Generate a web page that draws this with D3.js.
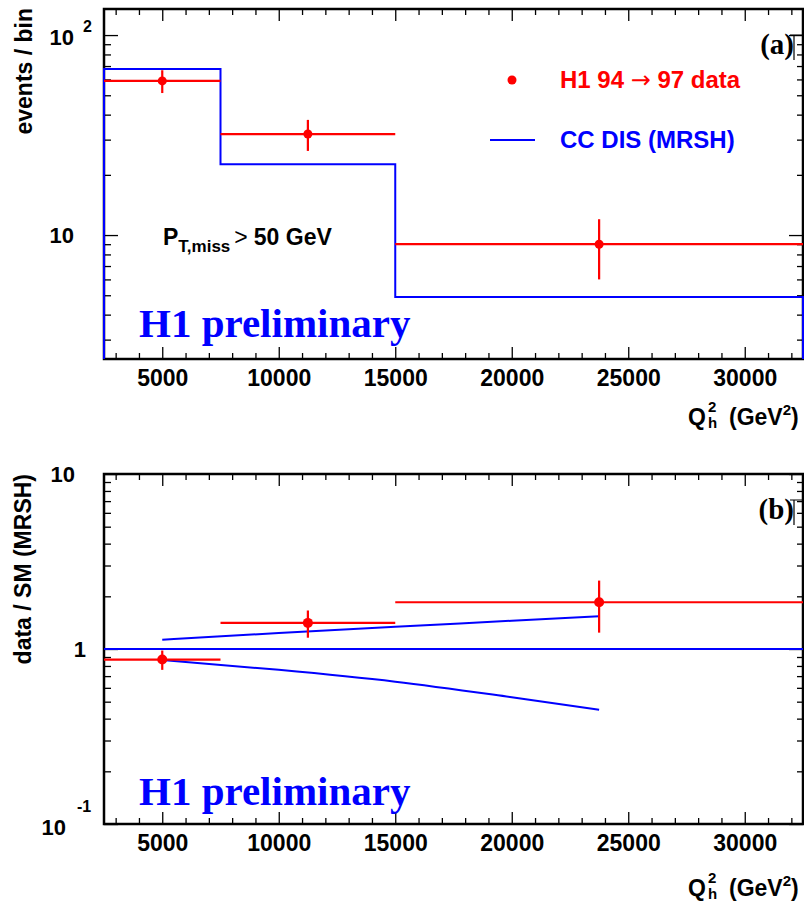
<!DOCTYPE html>
<html>
<head>
<meta charset="utf-8">
<script src="https://cdn.jsdelivr.net/npm/d3@7"></script>
<style>
  body { margin: 0; background: #fff; }
  svg { display: block; font-family: "Liberation Sans", Arial, sans-serif; font-weight: bold; }
  .serif { font-family: "Liberation Serif", "Times New Roman", serif; }
</style>
</head>
<body>
<svg id="chart" width="804" height="903"></svg>
<script>
// ---- values ----
var binEdges   = [2500, 7500, 15000, 32500];
var binCentres = [5000, 11250, 23750];
var dataEvents = [59, 32, 9];
var dataErr    = [7.7, 5.66, 3.0];
var mcEvents   = [67.6, 22.6, 4.9];
var ratioVals  = [0.87, 1.41, 1.85];
var ratioErr   = [0.11, 0.25, 0.61];
var bandQ2     = [5000, 10000, 15000, 20000, 23750];
var bandUp     = [1.13, 1.235, 1.34, 1.45, 1.54];
var bandLo     = [0.865, 0.76, 0.65, 0.53, 0.45];
var xTicks     = [5000, 10000, 15000, 20000, 25000, 30000];
var xMinor     = d3.range(3000, 33000, 1000);

var RED = "#ff0000", BLUE = "#0000ff";
var svg = d3.select("#chart");
var left = 104, right = 803;

var x = d3.scaleLinear().domain([2500, 32500]).range([left, right]);

function logMinor(lo, hi) {
    var out = [];
    for (var e = -2; e <= 3; e++)
        for (var m = 2; m <= 9; m++) {
            var v = m * Math.pow(10, e);
            if (v > lo && v < hi) out.push(v);
        }
    return out;
}

function drawFrame(y, top, bottom, majors) {
    var g = svg.append("g");
    var yd = y.domain();
    var minorX = xMinor.filter(d => xTicks.indexOf(d) < 0);
    // bottom axis with labels
    g.append("g").attr("transform", `translate(0,${bottom})`)
        .call(d3.axisBottom(x).tickValues(xTicks).tickSize(-12).tickPadding(11).tickFormat(d3.format("d")))
        .call(a => a.select(".domain").remove())
        .call(a => a.selectAll("text").attr("font-size", 23).attr("fill", "#000")
            .style("font-family", "Liberation Sans").style("font-weight", "bold"));
    g.append("g").attr("transform", `translate(0,${bottom})`)
        .call(d3.axisBottom(x).tickValues(minorX).tickSize(-6).tickFormat(""))
        .call(a => a.select(".domain").remove());
    // top mirrored ticks
    g.append("g").attr("transform", `translate(0,${top})`)
        .call(d3.axisTop(x).tickValues(xTicks).tickSize(-12).tickFormat(""))
        .call(a => a.select(".domain").remove());
    g.append("g").attr("transform", `translate(0,${top})`)
        .call(d3.axisTop(x).tickValues(minorX).tickSize(-6).tickFormat(""))
        .call(a => a.select(".domain").remove());
    // left and right
    g.append("g").attr("transform", `translate(${left},0)`)
        .call(d3.axisLeft(y).tickValues(majors).tickSize(-14).tickFormat(""))
        .call(a => a.select(".domain").remove());
    g.append("g").attr("transform", `translate(${left},0)`)
        .call(d3.axisLeft(y).tickValues(logMinor(yd[0], yd[1])).tickSize(-7).tickFormat(""))
        .call(a => a.select(".domain").remove());
    g.append("g").attr("transform", `translate(${right},0)`)
        .call(d3.axisRight(y).tickValues(majors).tickSize(-14).tickFormat(""))
        .call(a => a.select(".domain").remove());
    g.append("g").attr("transform", `translate(${right},0)`)
        .call(d3.axisRight(y).tickValues(logMinor(yd[0], yd[1])).tickSize(-6).tickFormat(""))
        .call(a => a.select(".domain").remove());
    g.selectAll(".tick line").attr("stroke", "#000").attr("stroke-width", 1.3);

    svg.append("rect").attr("x", left).attr("y", top)
        .attr("width", right - left).attr("height", bottom - top)
        .attr("fill", "none").attr("stroke", "#000").attr("stroke-width", 2.5);
}

function xTitle(base) {
    svg.append("text").attr("x", 688).attr("y", base).attr("font-size", 23).text("Q");
    svg.append("text").attr("x", 708).attr("y", base - 13).attr("font-size", 15).text("2");
    svg.append("text").attr("x", 708).attr("y", base + 3).attr("font-size", 15).text("h");
    var t = svg.append("text").attr("x", 729).attr("y", base).attr("font-size", 23).text("(GeV");
    t.append("tspan").attr("font-size", 15).attr("dy", -10).text("2");
    t.append("tspan").attr("dy", 10).text(")");
}

function panelTag(label, top) {
    svg.append("path").attr("d", `M790,${top + 26}H804M794,${top + 26}V${top + 51}`)
        .attr("stroke", "#000").attr("stroke-width", 1.2).attr("fill", "none");
    svg.append("text").attr("class", "serif").attr("x", 794).attr("y", top + 45)
        .attr("text-anchor", "end").attr("font-size", 29).text(label);
}

function prelim(base) {
    svg.append("text").attr("class", "serif").attr("x", 139).attr("y", base)
        .attr("font-size", 41).attr("fill", BLUE).text("H1 preliminary");
}

function dataPoints(y, vals, errs, r) {
    var g = svg.append("g").attr("stroke", RED).attr("stroke-width", 2.2);
    binCentres.forEach(function(c, i) {
        g.append("line").attr("x1", x(binEdges[i])).attr("x2", x(binEdges[i + 1]))
            .attr("y1", y(vals[i])).attr("y2", y(vals[i]));
        g.append("line").attr("x1", x(c)).attr("x2", x(c))
            .attr("y1", y(vals[i] - errs[i])).attr("y2", y(vals[i] + errs[i]));
        g.append("circle").attr("cx", x(c)).attr("cy", y(vals[i])).attr("r", r)
            .attr("fill", RED).attr("stroke", "none");
    });
}

// ================= panel (a) =================
var topA = 9, botA = 359;
var yA = d3.scaleLog().domain([2.4, 135]).range([botA, topA]);
drawFrame(yA, topA, botA, [10, 100]);

// MC histogram
var histPath = d3.path();
histPath.moveTo(x(binEdges[0]), botA);
mcEvents.forEach(function(v, i) {
    histPath.lineTo(x(binEdges[i]), yA(v));
    histPath.lineTo(x(binEdges[i + 1]), yA(v));
});
histPath.lineTo(x(binEdges[3]), botA);
svg.append("path").attr("d", histPath.toString()).attr("fill", "none")
    .attr("stroke", BLUE).attr("stroke-width", 2);

dataPoints(yA, dataEvents, dataErr, 4.5);

// y labels
svg.append("text").attr("x", 74).attr("y", yA(100) + 10).attr("text-anchor", "end").attr("font-size", 22).text("10");
svg.append("text").attr("x", 83).attr("y", yA(100) - 3).attr("font-size", 16).text("2");
svg.append("text").attr("x", 74).attr("y", yA(10) + 8).attr("text-anchor", "end").attr("font-size", 22).text("10");
svg.append("text").attr("transform", `translate(32,${topA - 1}) rotate(-90)`)
    .attr("text-anchor", "end").attr("font-size", 23).text("events / bin");
xTitle(425);

// legend
svg.append("circle").attr("cx", 512).attr("cy", 80).attr("r", 4.5).attr("fill", RED);
var lg = svg.append("text").attr("x", 560).attr("y", 88).attr("font-size", 24).attr("fill", RED).text("H1 94 ");
lg.append("tspan").style("font-weight", "normal").style("font-family", "DejaVu Sans").attr("font-size", 24).text("\u2192");
lg.append("tspan").text(" 97 data");
svg.append("line").attr("x1", 490).attr("x2", 535).attr("y1", 140).attr("y2", 140)
    .attr("stroke", BLUE).attr("stroke-width", 2);
svg.append("text").attr("x", 560).attr("y", 148).attr("font-size", 24).attr("fill", BLUE).text("CC DIS (MRSH)");

// cut label
var pt = svg.append("text").attr("x", 163).attr("y", 245).attr("font-size", 23).text("P");
pt.append("tspan").attr("font-size", 17).attr("dy", 7).text("T,miss");
pt.append("tspan").attr("dy", -7).style("font-weight", "normal").attr("dx", 4).text(">");
pt.append("tspan").attr("dx", 6).text("50 GeV");

prelim(337);
panelTag("(a)", topA);

// ================= panel (b) =================
var topB = 474, botB = 824;
var yB = d3.scaleLog().domain([0.1, 10]).range([botB, topB]);
drawFrame(yB, topB, botB, [0.1, 1, 10]);

svg.append("line").attr("x1", left).attr("x2", right).attr("y1", yB(1)).attr("y2", yB(1))
    .attr("stroke", BLUE).attr("stroke-width", 2);
var band = d3.line().x((d, i) => x(bandQ2[i])).y(d => yB(d)).curve(d3.curveMonotoneX);
[bandUp, bandLo].forEach(function(arr) {
    svg.append("path").attr("d", band(arr)).attr("fill", "none")
        .attr("stroke", BLUE).attr("stroke-width", 2);
});

dataPoints(yB, ratioVals, ratioErr, 5);

svg.append("text").attr("x", 75).attr("y", yB(10) + 8).attr("text-anchor", "end").attr("font-size", 22).text("10");
svg.append("text").attr("x", 86).attr("y", yB(1) + 8).attr("text-anchor", "end").attr("font-size", 22).text("1");
svg.append("text").attr("x", 66).attr("y", 835).attr("text-anchor", "end").attr("font-size", 22).text("10");
svg.append("text").attr("x", 77).attr("y", 812).attr("font-size", 16).text("-1");
svg.append("text").attr("transform", `translate(31,${topB}) rotate(-90)`)
    .attr("text-anchor", "end").attr("font-size", 23).text("data / SM (MRSH)");
xTitle(896);

prelim(805);
panelTag("(b)", topB);
</script>
</body>
</html>
